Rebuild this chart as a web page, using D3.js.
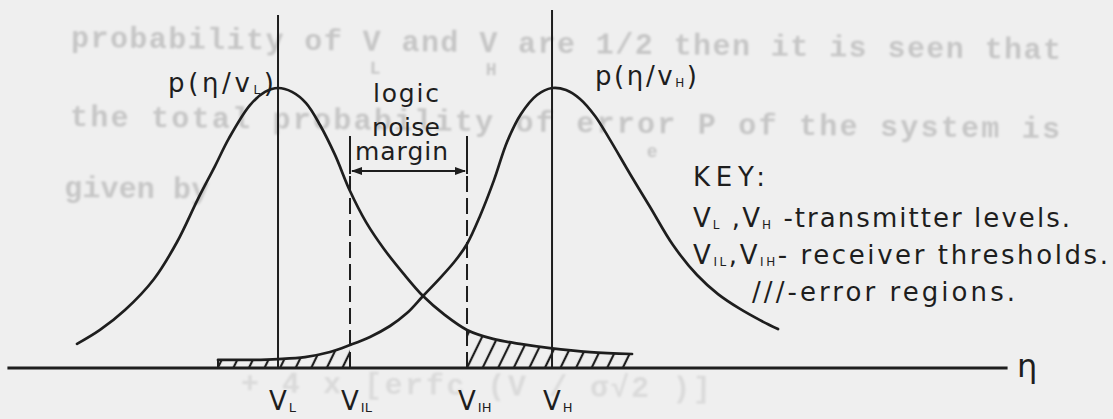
<!DOCTYPE html>
<html>
<head>
<meta charset="utf-8">
<script src="https://cdn.jsdelivr.net/npm/d3@7"></script>
<style>
  html, body { margin: 0; padding: 0; background: #efefef; }
  svg { display: block; }
</style>
</head>
<body>
<svg id="chart" width="1113" height="419"></svg>
<script>
// ---- data -------------------------------------------------------------
// Conditional densities p(η/v_L) and p(η/v_H), normalised to a peak of 1
const etaLow  = [-1.934, -1.599, -1.234, -0.810, -0.474, -0.168, 0.080, 0.285, 0.591, 0.810, 1.0, 1.204, 1.409, 1.613, 1.832, 2.051, 2.285, 2.547, 2.825, 3.117, 3.438, 3.759, 4.139, 4.533, 4.971, 5.555, 6.168];
const pLow    = [ 0.086,  0.136,  0.207,  0.318,  0.450,  0.604, 0.721, 0.821, 0.939, 0.986, 1.0, 0.986, 0.946, 0.868, 0.761, 0.632, 0.521, 0.425, 0.339, 0.257, 0.189, 0.136, 0.104, 0.086, 0.071, 0.057, 0.050];
const etaHigh = [0.124, 0.591, 1.0, 1.394, 1.759, 2.051, 2.343, 2.635, 2.883, 3.117, 3.365, 3.584, 3.759, 3.949, 4.153, 4.343, 4.547, 4.781, 5.0, 5.204, 5.409, 5.628, 5.832, 6.139, 6.431, 6.766, 7.117, 7.423, 7.745, 8.036, 8.299];
const pHigh   = [0.029, 0.029, 0.032, 0.039, 0.057, 0.082, 0.111, 0.150, 0.196, 0.257, 0.321, 0.382, 0.443, 0.543, 0.671, 0.807, 0.907, 0.975, 1.0, 0.993, 0.961, 0.900, 0.821, 0.693, 0.575, 0.439, 0.332, 0.264, 0.211, 0.171, 0.139];

// Transmitter levels and receiver thresholds on the η axis
const levelMain  = ["V", "V", "V", "V"];
const levelSub   = ["L", "IL", "IH", "H"];
const levelEta   = [1.0, 2.051, 3.759, 5.0];
const levelDash  = [false, true, true, false];

// Error regions: [from, to] in η
const errHighRange = [0.124, 2.051];   // v_H read below V_IL
const errLowRange  = [3.759, 6.168];   // v_L read above V_IH

// Axis extent
const etaAxis = [-2.95, 11.65];

// ---- scales -----------------------------------------------------------
const svg = d3.select("#chart");
const x = d3.scaleLinear().domain([-3, 11.7]).range([4, 1011]);
const y = d3.scaleLinear().domain([0, 1]).range([368, 88]);

const ink = "#1e1e1e";
const font = "'DejaVu Sans', sans-serif";

const defs = svg.append("defs");
defs.append("filter").attr("id", "soft")
  .append("feGaussianBlur").attr("stdDeviation", 0.9);

const hatch = defs.append("pattern")
  .attr("id", "hatch")
  .attr("patternUnits", "userSpaceOnUse")
  .attr("width", 14).attr("height", 14)
  .attr("patternTransform", "rotate(26)");
hatch.append("line")
  .attr("x1", 7).attr("x2", 7).attr("y1", -2).attr("y2", 16)
  .attr("stroke", ink).attr("stroke-width", 2.2);

// ---- faint typewritten text showing through from the reverse side ------
const bleed = svg.append("g")
  .attr("filter", "url(#soft)")
  .attr("fill", "#c6c6c6")
  .attr("font-family", "'Liberation Mono', monospace")
  .attr("font-weight", "bold")
  .attr("font-size", 30)
  .attr("transform", "rotate(0.7, 71, 45)");
bleed.append("text").attr("x", 71).attr("y", 47).attr("textLength", 990).attr("lengthAdjust", "spacing")
  .text("probability of V  and V  are 1/2 then it is seen  that");
bleed.append("text").attr("x", 370).attr("y", 70).attr("font-size", 18).text("L");
bleed.append("text").attr("x", 486).attr("y", 70).attr("font-size", 18).text("H");
bleed.append("text").attr("x", 71).attr("y", 126).attr("textLength", 990).attr("lengthAdjust", "spacing")
  .text("the total probability of error P   of  the  system  is");
bleed.append("text").attr("x", 648).attr("y", 150).attr("font-size", 18).text("e");
bleed.append("text").attr("x", 66).attr("y", 197).attr("textLength", 145).attr("lengthAdjust", "spacing")
  .text("given by");
bleed.append("text").attr("x", 245).attr("y", 390).attr("fill", "#dadada").attr("textLength", 470).attr("lengthAdjust", "spacing")
  .text("+ 4 x [erfc (V  / σ√2 )]");

// ---- error regions ----------------------------------------------------
const area = d3.area().curve(d3.curveCatmullRom.alpha(0.5));
const line = d3.line().curve(d3.curveCatmullRom.alpha(0.5));

function hatchRegion(etas, ps, range, id) {
  defs.append("clipPath").attr("id", id)
    .append("rect")
    .attr("x", x(range[0])).attr("width", x(range[1]) - x(range[0]))
    .attr("y", 0).attr("height", y(0));
  svg.append("path")
    .attr("clip-path", `url(#${id})`)
    .attr("fill", "url(#hatch)")
    .attr("d", area.x((d, i) => x(etas[i])).y0(y(0)).y1((d, i) => y(ps[i]))(etas));
}
hatchRegion(etaHigh, pHigh, errHighRange, "clipHigh");
hatchRegion(etaLow, pLow, errLowRange, "clipLow");

// closing tick at the start of the left error region
svg.append("line")
  .attr("x1", x(etaHigh[0])).attr("x2", x(etaHigh[0]))
  .attr("y1", y(pHigh[0])).attr("y2", y(0))
  .attr("stroke", ink).attr("stroke-width", 2);

// ---- level lines ------------------------------------------------------
const solidTop = { L: 15, H: 10 };
levelEta.forEach((v, i) => {
  const ln = svg.append("line")
    .attr("x1", x(v)).attr("x2", x(v))
    .attr("y2", y(0))
    .attr("stroke", ink).attr("stroke-width", 2);
  if (levelDash[i]) ln.attr("y1", 176).attr("stroke-dasharray", "16,6");
  else ln.attr("y1", solidTop[levelSub[i]]);
});

// ---- density curves ---------------------------------------------------
[[etaLow, pLow], [etaHigh, pHigh]].forEach(([etas, ps]) => {
  svg.append("path")
    .attr("fill", "none")
    .attr("stroke", ink)
    .attr("stroke-width", 2.7)
    .attr("stroke-linecap", "round")
    .attr("stroke-linejoin", "round")
    .attr("d", line.x((d, i) => x(etas[i])).y((d, i) => y(ps[i]))(etas));
});

// ---- η axis -----------------------------------------------------------
svg.append("line")
  .attr("x1", x(etaAxis[0])).attr("x2", x(etaAxis[1]))
  .attr("y1", y(0)).attr("y2", y(0))
  .attr("stroke", ink).attr("stroke-width", 2.8);

svg.append("text")
  .attr("x", 1017).attr("y", 377)
  .attr("font-family", font).attr("font-size", 32).attr("fill", ink)
  .text("η");

const lab = svg.append("g").attr("font-family", font).attr("fill", ink);
levelEta.forEach((v, i) => {
  const t = lab.append("text")
    .attr("x", x(v) - 9).attr("y", 410)
    .attr("font-size", 26);
  t.append("tspan").text(levelMain[i]);
  t.append("tspan").attr("font-size", 13).attr("dx", 2).attr("dy", 2).text(levelSub[i]);
});

// ---- logic noise margin bracket --------------------------------------
const mL = x(levelEta[1]), mR = x(levelEta[2]);
[mL, mR].forEach(mx => svg.append("line")
  .attr("x1", mx).attr("x2", mx).attr("y1", 136).attr("y2", 174)
  .attr("stroke", ink).attr("stroke-width", 2));
svg.append("line")
  .attr("x1", mL + 2).attr("x2", mR - 2).attr("y1", 171).attr("y2", 171)
  .attr("stroke", ink).attr("stroke-width", 2);
svg.append("path").attr("fill", ink)
  .attr("d", `M${mL + 1},171 l11,-4 l0,8 Z M${mR - 1},171 l-11,-4 l0,8 Z`);

const txt = svg.append("g").attr("font-family", font).attr("fill", ink).attr("font-size", 25);
txt.append("text").attr("x", 373).attr("y", 102).attr("textLength", 66).attr("lengthAdjust", "spacing").text("logic");
txt.append("text").attr("x", 372).attr("y", 136).attr("textLength", 68).attr("lengthAdjust", "spacing").text("noise");
txt.append("text").attr("x", 355).attr("y", 160).attr("textLength", 93).attr("lengthAdjust", "spacing").text("margin");

// ---- curve labels -----------------------------------------------------
function densityLabel(x0, y0, sub, len) {
  const t = txt.append("text").attr("x", x0).attr("y", y0).attr("font-size", 26)
    .attr("textLength", len).attr("lengthAdjust", "spacing");
  t.append("tspan").text("p(η/v");
  t.append("tspan").attr("font-size", 12).attr("dy", 2).text(sub);
  t.append("tspan").attr("dy", -2).text(")");
}
densityLabel(168, 92, "L", 106);
densityLabel(595, 85, "H", 102);

// ---- key --------------------------------------------------------------
const key = svg.append("g").attr("font-family", font).attr("fill", ink).attr("font-size", 26);
key.append("text").attr("x", 693).attr("y", 186).attr("textLength", 72).attr("lengthAdjust", "spacing").text("KEY:");

function keyLine(y0, parts, len, x0) {
  const t = key.append("text").attr("x", x0).attr("y", y0)
    .attr("textLength", len).attr("lengthAdjust", "spacing");
  parts.forEach(([s, isSub], k) => {
    const ts = t.append("tspan").text(s);
    if (isSub) ts.attr("font-size", 12).attr("dy", 2);
    else if (k > 0) ts.attr("dy", -2);
  });
}
keyLine(227, [["V", 0], ["L", 1], [" ,V", 0], ["H", 1], [" -transmitter levels.", 0]], 377, 693);
keyLine(264, [["V", 0], ["IL", 1], [",V", 0], ["IH", 1], ["- receiver  thresholds.", 0]], 415, 693);
key.append("text").attr("x", 752).attr("y", 301).attr("textLength", 263).attr("lengthAdjust", "spacing").text("///-error  regions.");
</script>
</body>
</html>
